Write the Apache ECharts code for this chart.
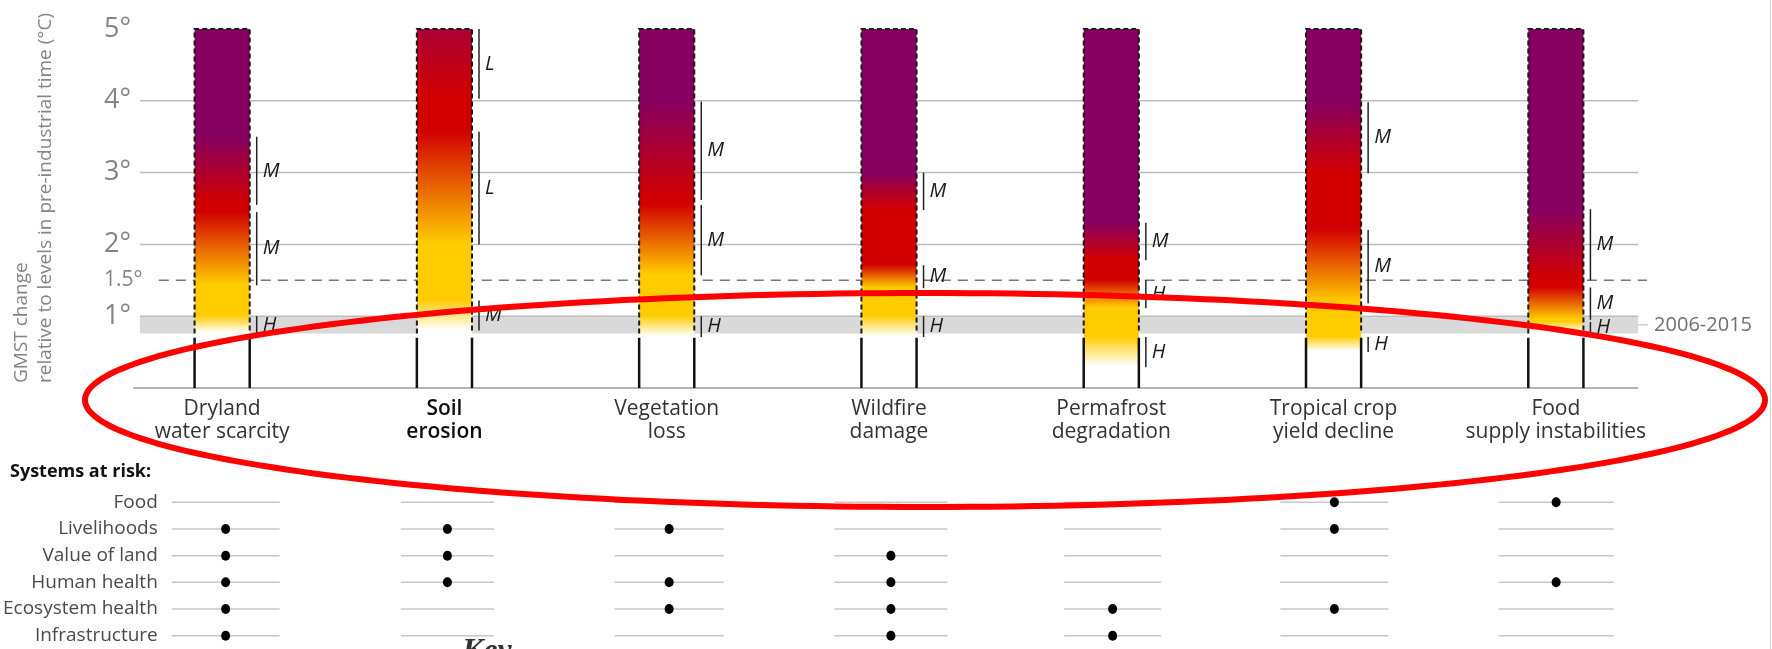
<!DOCTYPE html>
<html>
<head>
<meta charset="utf-8">
<script src="https://cdn.jsdelivr.net/npm/echarts@6/dist/echarts.min.js"></script>
<style>
  html, body { margin: 0; padding: 0; background: #fff; }
  #chart { width: 1772px; height: 649px; }
</style>
</head>
<body>
<div id="chart"></div>
<script>
// ---- data ----
const categories = [
  'Dryland\nwater scarcity', 'Soil\nerosion', 'Vegetation\nloss', 'Wildfire\ndamage',
  'Permafrost\ndegradation', 'Tropical crop\nyield decline', 'Food\nsupply instabilities'
];
// warming ranges (°C) over which risk moves from one level to the next
const toModerate = [[0.76, 1.00], [0.80, 1.22], [0.71, 1.00], [0.71, 1.00], [0.29, 0.71], [0.50, 0.71], [0.77, 0.92]];
const toHigh     = [[1.43, 2.45], [2.00, 3.57], [1.57, 2.55], [1.39, 1.71], [1.11, 1.50], [1.18, 2.20], [0.95, 1.40]];
const toVeryHigh = [[2.55, 3.50], [4.03, 5.90], [2.62, 3.99], [2.48, 3.00], [1.78, 2.30], [2.99, 3.98], [1.50, 2.49]];
// confidence in each transition
const confModerate = ['H', 'M', 'H', 'H', 'H', 'H', 'H'];
const confHigh     = ['M', 'L', 'M', 'M', 'H', 'M', 'M'];
const confVeryHigh = ['M', 'L', 'M', 'M', 'M', 'M', 'M'];

const yTicks = [0, 1, 2, 3, 4, 5];
const gridTicks = [1, 2, 3, 4];
const threshold = 1.5;
const recentWarming = [0.76, 1.00];   // 2006-2015 range
const recentLabel = '2006-2015';

const systems = ['Food', 'Livelihoods', 'Value of land', 'Human health', 'Ecosystem health', 'Infrastructure'];
const systemsAtRisk = [
  ['Livelihoods', 'Value of land', 'Human health', 'Ecosystem health', 'Infrastructure'],
  ['Livelihoods', 'Value of land', 'Human health'],
  ['Livelihoods', 'Human health', 'Ecosystem health'],
  ['Value of land', 'Human health', 'Ecosystem health', 'Infrastructure'],
  ['Ecosystem health', 'Infrastructure'],
  ['Food', 'Livelihoods', 'Ecosystem health'],
  ['Food', 'Human health']
];

// ---- styling ----
const FONT = '"Open Sans", "Noto Sans", sans-serif';
const COLORS = {
  none: [255, 255, 255],
  moderate: [255, 204, 0],
  high: [210, 0, 0],
  veryHigh: [134, 0, 96]
};
const Y_MAX = 5;
const STEM_TOP = 0.70;          // solid stems below the dashed outline
const BAR_HALF = 0.124;         // half bar width, fraction of category band
const RULE_EXT = 0.37;          // grid rules reach past the outer bars
const ruleWidths = [108, 93, 109, 113, 97, 108, 115];

function mix(a, b, t) {
  t = Math.max(0, Math.min(1, t));
  return [0, 1, 2].map(k => Math.round(a[k] + (b[k] - a[k]) * t));
}
function riskColor(i, v) {
  const m = toModerate[i], h = toHigh[i], vh = toVeryHigh[i];
  let c;
  if (v >= vh[0]) c = mix(COLORS.high, COLORS.veryHigh, (v - vh[0]) / (vh[1] - vh[0]));
  else if (v >= h[0]) c = mix(COLORS.moderate, COLORS.high, (v - h[0]) / (h[1] - h[0]));
  else if (v >= m[0]) c = mix(COLORS.none, COLORS.moderate, (v - m[0]) / (m[1] - m[0]));
  else c = COLORS.none;
  return 'rgb(' + c.join(',') + ')';
}
function emberStops(i) {
  const vals = [Y_MAX, 0].concat(toModerate[i], toHigh[i], toVeryHigh[i])
    .map(v => Math.max(0, Math.min(Y_MAX, v)));
  vals.sort((a, b) => b - a);
  return vals.map(v => ({ offset: (Y_MAX - v) / Y_MAX, color: riskColor(i, v) }));
}

// confidence brackets
const confItems = [];
categories.forEach((c, i) => {
  [[toModerate, confModerate], [toHigh, confHigh], [toVeryHigh, confVeryHigh]].forEach(([rng, conf]) => {
    confItems.push({ cat: i, lo: rng[i][0], hi: Math.min(Y_MAX, rng[i][1]), letter: conf[i] });
  });
});

// systems matrix
const ruleData = [];
const dotData = [];
categories.forEach((c, i) => {
  systems.forEach((s, r) => {
    ruleData.push([i, r]);
    if (systemsAtRisk[i].indexOf(s) >= 0) dotData.push([i, r]);
  });
});

const chart = echarts.init(document.getElementById('chart'), null, { renderer: 'canvas' });

const option = {
  backgroundColor: '#ffffff',
  animation: false,
  grid: [
    { left: 111, right: 105, top: 29, height: 359 },
    { left: 111, right: 105, top: 489, height: 163.6 }
  ],
  xAxis: [
    {
      type: 'category', data: categories, gridIndex: 0,
      axisLine: { show: false }, axisTick: { show: false }, splitLine: { show: false },
      axisLabel: {
        interval: 0, margin: 10, fontSize: 21, lineHeight: 23, color: '#333', fontFamily: FONT,
        formatter: (v, idx) => idx === 1
          ? v.split('\n').map(s => '{b|' + s + '}').join('\n') : v,
        rich: { b: { fontSize: 21, lineHeight: 23, color: '#0d0d0d', fontWeight: 600, fontFamily: FONT } }
      }
    },
    { type: 'category', data: categories, gridIndex: 1, show: false }
  ],
  yAxis: [
    {
      type: 'value', min: 0, max: Y_MAX, interval: 1, gridIndex: 0,
      axisLine: { show: false }, axisTick: { show: false }, splitLine: { show: false },
      axisLabel: {
        align: 'left', margin: 7, fontSize: 27, color: '#858585', fontFamily: FONT,
        formatter: v => (yTicks.indexOf(v) > 0 ? v + '°' : '')
      }
    },
    {
      type: 'category', data: systems, inverse: true, gridIndex: 1,
      axisLine: { show: false }, axisTick: { show: false }, splitLine: { show: false },
      axisLabel: { margin: -43, fontSize: 19, color: '#4a4a4a', fontFamily: FONT }
    }
  ],
  series: [
    {
      // rules, recent-warming band and the 1.5° threshold
      type: 'custom', xAxisIndex: 0, yAxisIndex: 0, z: 1, clip: false, silent: true,
      data: [[0]],
      renderItem(params, api) {
        const band = api.size([1, 0])[0];
        const x0 = api.coord([0, 0])[0];
        const xN = api.coord([categories.length - 1, 0])[0];
        const xL = x0 - RULE_EXT * band, xR = xN + RULE_EXT * band;
        const y = v => api.coord([0, v])[1];
        const yMid = y((recentWarming[0] + recentWarming[1]) / 2);
        const kids = [];
        kids.push({
          type: 'rect', shape: { x: xL, y: y(recentWarming[1]), width: xR - xL, height: y(recentWarming[0]) - y(recentWarming[1]) },
          style: { fill: '#d9d9d9' }
        });
        kids.push({
          type: 'line', shape: { x1: xR, y1: yMid, x2: xR + 10, y2: yMid },
          style: { stroke: '#d0d0d0', lineWidth: 1.5 }
        });
        kids.push({
          type: 'text', x: xR + 16, y: yMid,
          style: { text: recentLabel, fontSize: 20, fontFamily: FONT, fill: '#707070', align: 'left', verticalAlign: 'middle' }
        });
        gridTicks.forEach(t => {
          kids.push({
            type: 'line', shape: { x1: xL, y1: y(t), x2: xR, y2: y(t) },
            style: { stroke: '#bdbdbd', lineWidth: 1.5 }
          });
        });
        kids.push({
          type: 'line', shape: { x1: x0 - 0.4 * band, y1: y(0), x2: xR, y2: y(0) },
          style: { stroke: '#b4b4b4', lineWidth: 2 }
        });
        kids.push({
          type: 'line', shape: { x1: x0 - 0.285 * band, y1: y(threshold), x2: xN + 0.41 * band, y2: y(threshold) },
          style: { stroke: '#777', lineWidth: 1.5, lineDash: [10, 7] }
        });
        kids.push({
          type: 'text', x: params.coordSys.x - 7, y: y(threshold),
          style: { text: threshold + '°', fontSize: 21, fontFamily: FONT, fill: '#858585', align: 'left', verticalAlign: 'middle' }
        });
        return { type: 'group', children: kids };
      }
    },
    {
      // burning-ember bars
      type: 'custom', xAxisIndex: 0, yAxisIndex: 0, z: 2, clip: false, silent: true,
      data: categories.map((c, i) => [i]),
      renderItem(params, api) {
        const i = api.value(0);
        const band = api.size([1, 0])[0];
        const cx = api.coord([i, 0])[0];
        const half = BAR_HALF * band;
        const xa = cx - half, xb = cx + half;
        const yTop = api.coord([i, Y_MAX])[1];
        const yBase = api.coord([i, 0])[1];
        const yDash = api.coord([i, recentWarming[0]])[1];
        const yStem = api.coord([i, STEM_TOP])[1];
        return {
          type: 'group',
          children: [
            {
              type: 'rect', shape: { x: xa, y: yTop, width: xb - xa, height: yBase - yTop - 1 },
              style: { fill: new echarts.graphic.LinearGradient(0, 0, 0, 1, emberStops(i)) }
            },
            {
              type: 'polyline', shape: { points: [[xa, yDash], [xa, yTop], [xb, yTop], [xb, yDash]] },
              style: { stroke: '#1a1a1a', lineWidth: 2, lineDash: [5, 3], fill: null }
            },
            { type: 'line', shape: { x1: xa, y1: yBase, x2: xa, y2: yStem }, style: { stroke: '#111', lineWidth: 2.5 } },
            { type: 'line', shape: { x1: xb, y1: yBase, x2: xb, y2: yStem }, style: { stroke: '#111', lineWidth: 2.5 } }
          ]
        };
      }
    },
    {
      // confidence brackets
      type: 'custom', xAxisIndex: 0, yAxisIndex: 0, z: 3, clip: false, silent: true,
      data: confItems.map(d => [d.cat, d.lo, d.hi]),
      renderItem(params, api) {
        const it = confItems[params.dataIndex];
        const band = api.size([1, 0])[0];
        const x = api.coord([it.cat, 0])[0] + BAR_HALF * band + 7;
        const y1 = api.coord([it.cat, it.hi])[1];
        const y2 = api.coord([it.cat, it.lo])[1];
        return {
          type: 'group',
          children: [
            { type: 'line', shape: { x1: x, y1: y1, x2: x, y2: y2 }, style: { stroke: '#222', lineWidth: 1.5 } },
            {
              type: 'text', x: x + 6, y: (y1 + y2) / 2,
              style: { text: it.letter, fontSize: 20, fontStyle: 'italic', fontFamily: FONT, fill: '#1a1a1a', align: 'left', verticalAlign: 'middle' }
            }
          ]
        };
      }
    },
    {
      // systems-at-risk rules
      type: 'custom', xAxisIndex: 1, yAxisIndex: 1, z: 1, clip: false, silent: true,
      data: ruleData,
      renderItem(params, api) {
        const p = api.coord([api.value(0), api.value(1)]);
        const w = ruleWidths[api.value(0)];
        return { type: 'line', shape: { x1: p[0] - w / 2, y1: p[1], x2: p[0] + w / 2, y2: p[1] }, style: { stroke: '#c8c8c8', lineWidth: 1.5 } };
      }
    },
    {
      type: 'scatter', xAxisIndex: 1, yAxisIndex: 1, z: 2, silent: true,
      symbol: 'circle', symbolSize: [9, 10],
      itemStyle: { color: '#000', opacity: 1 },
      data: dotData
    }
  ],
  graphic: []
};

// hand-drawn style red outline around the category names
const ringPts = [];
for (let k = 0; k <= 240; k++) {
  const t = (k / 240) * Math.PI * 2;
  ringPts.push([925 + 840 * Math.cos(t), 400 + 107 * Math.sin(t)]);
}

option.graphic = [
  {
    type: 'text', x: 34, y: 383, rotation: Math.PI / 2, z: 10,
    style: {
      text: 'GMST change\nrelative to levels in pre-industrial time (°C)',
      fontSize: 19, lineHeight: 24, fontFamily: FONT, fill: '#858585',
      textAlign: 'left', textVerticalAlign: 'middle'
    }
  },
  {
    type: 'text', left: 10, top: 463, z: 10,
    style: { text: 'Systems at risk:', fontSize: 18, fontWeight: 'bold', fontFamily: FONT, fill: '#111' }
  },
  {
    type: 'text', left: 462, top: 636, z: 10,
    style: { text: 'Key', fontSize: 32, fontWeight: 'bold', fontStyle: 'italic', fontFamily: '"Liberation Serif", "DejaVu Serif", serif', fill: '#333' }
  },
  {
    type: 'polygon', z: 100, silent: true,
    shape: { points: ringPts },
    style: { fill: null, stroke: '#ff0000', lineWidth: 6 }
  },
  {
    type: 'line', z: 10, silent: true,
    shape: { x1: 1770.5, y1: 0, x2: 1770.5, y2: 649 },
    style: { stroke: '#d6d6d6', lineWidth: 1 }
  }
];

chart.setOption(option);
</script>
</body>
</html>
